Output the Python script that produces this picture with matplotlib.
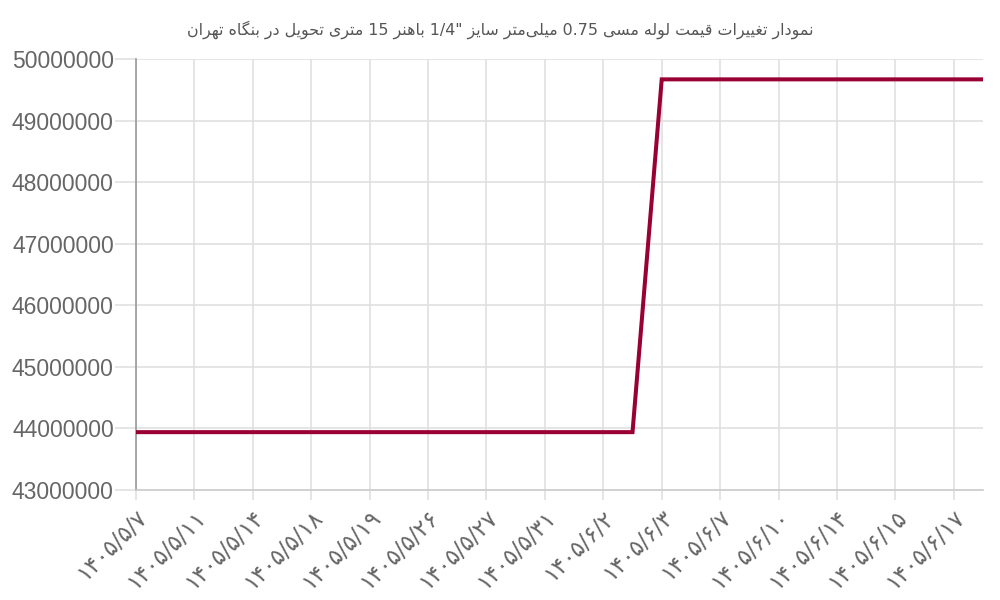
import re

import matplotlib.pyplot as plt

# عنوان و داده‌ها
title_text = 'نمودار تغییرات قیمت لوله مسی 0.75 میلی\u200cمتر سایز "1/4 باهنر 15 متری تحویل در بنگاه تهران'

date_labels = ['۱۴۰۵/۵/۷', '۱۴۰۵/۵/۱۱', '۱۴۰۵/۵/۱۴', '۱۴۰۵/۵/۱۸', '۱۴۰۵/۵/۱۹',
               '۱۴۰۵/۵/۲۶', '۱۴۰۵/۵/۲۷', '۱۴۰۵/۵/۳۱', '۱۴۰۵/۶/۲', '۱۴۰۵/۶/۳',
               '۱۴۰۵/۶/۷', '۱۴۰۵/۶/۱۰', '۱۴۰۵/۶/۱۴', '۱۴۰۵/۶/۱۵', '۱۴۰۵/۶/۱۷']

prices = [43940000, 43940000, 43940000, 43940000, 43940000, 43940000,
          43940000, 43940000, 43940000, 43940000, 43940000, 43940000,
          43940000, 43940000, 43940000, 43940000, 43940000, 43940000,
          49670000, 49670000, 49670000, 49670000, 49670000, 49670000,
          49670000, 49670000, 49670000, 49670000, 49670000, 49670000]

y_ticks = [43000000, 44000000, 45000000, 46000000, 47000000, 48000000, 49000000, 50000000]

# matplotlib حروف فارسی را به هم نمی‌چسباند، پس شکل‌ها را دستی انتخاب می‌کنیم
FORMS = {
    'ا': ('\uFE8D', '\uFE8E', None, None),
    'ب': ('\uFE8F', '\uFE90', '\uFE91', '\uFE92'),
    'ت': ('\uFE95', '\uFE96', '\uFE97', '\uFE98'),
    'ح': ('\uFEA1', '\uFEA2', '\uFEA3', '\uFEA4'),
    'د': ('\uFEA9', '\uFEAA', None, None),
    'ر': ('\uFEAD', '\uFEAE', None, None),
    'ز': ('\uFEAF', '\uFEB0', None, None),
    'س': ('\uFEB1', '\uFEB2', '\uFEB3', '\uFEB4'),
    'غ': ('\uFECD', '\uFECE', '\uFECF', '\uFED0'),
    'ق': ('\uFED5', '\uFED6', '\uFED7', '\uFED8'),
    'ل': ('\uFEDD', '\uFEDE', '\uFEDF', '\uFEE0'),
    'م': ('\uFEE1', '\uFEE2', '\uFEE3', '\uFEE4'),
    'ن': ('\uFEE5', '\uFEE6', '\uFEE7', '\uFEE8'),
    'ه': ('\uFEE9', '\uFEEA', '\uFEEB', '\uFEEC'),
    'و': ('\uFEED', '\uFEEE', None, None),
    'ی': ('\uFBFC', '\uFBFD', '\uFBFE', '\uFBFF'),
    'ک': ('\uFB8E', '\uFB8F', '\uFB90', '\uFB91'),
    'گ': ('\uFB92', '\uFB93', '\uFB94', '\uFB95'),
}


def shape(text):
    out = []
    for i, ch in enumerate(text):
        if ch not in FORMS:
            out.append(ch)
            continue
        iso, fin, ini, med = FORMS[ch]
        prev = text[i - 1] if i > 0 else ''
        nxt = text[i + 1] if i + 1 < len(text) else ''
        join_prev = prev in FORMS and FORMS[prev][2] is not None
        join_next = ini is not None and nxt in FORMS
        if join_prev and join_next:
            out.append(med)
        elif join_prev:
            out.append(fin)
        elif join_next:
            out.append(ini)
        else:
            out.append(iso)
    return ''.join(out).replace('\u200c', '')


def rtl(text):
    s = shape(text)[::-1]
    return re.sub(r'[0-9A-Za-z][0-9A-Za-z./]*', lambda m: m.group(0)[::-1], s)


fig = plt.figure(figsize=(10, 6), dpi=100)
ax = fig.add_axes([0.136, 0.1833, 0.847, 0.7183])

x = list(range(len(prices)))
ax.plot(x, prices, color='#990033', linewidth=2.9, solid_joinstyle='miter', zorder=3)

ax.set_xlim(0, len(prices) - 1)
ax.set_ylim(y_ticks[0], y_ticks[-1])

ax.set_yticks(y_ticks)
ax.set_yticklabels([str(v) for v in y_ticks], fontsize=16.5, color='#666666',
                   family=['Liberation Sans', 'DejaVu Sans'])

ax.set_xticks(list(range(0, len(prices), 2)))
ax.set_xticklabels(date_labels, rotation=45, ha='right', rotation_mode='anchor',
                   fontsize=16.5, color='#666666', family=['DejaVu Sans'])

ax.grid(True, color='#e0e0e0', linewidth=1.2, zorder=0)
ax.tick_params(axis='y', length=15, width=1.2, color='#e0e0e0', pad=1)
ax.tick_params(axis='x', length=7, width=1.2, color='#e0e0e0', pad=4)

ax.spines['top'].set_visible(False)
ax.spines['right'].set_visible(False)
ax.spines['left'].set_color('#999999')
ax.spines['left'].set_linewidth(1.2)
ax.spines['bottom'].set_color('#cccccc')
ax.spines['bottom'].set_linewidth(1.2)

fig.text(0.5, 1 - 30 / 600, rtl(title_text), ha='center', va='center',
         fontsize=11.4, color='#555555', family=['DejaVu Sans'])

fig.savefig('out.png', dpi=100)
